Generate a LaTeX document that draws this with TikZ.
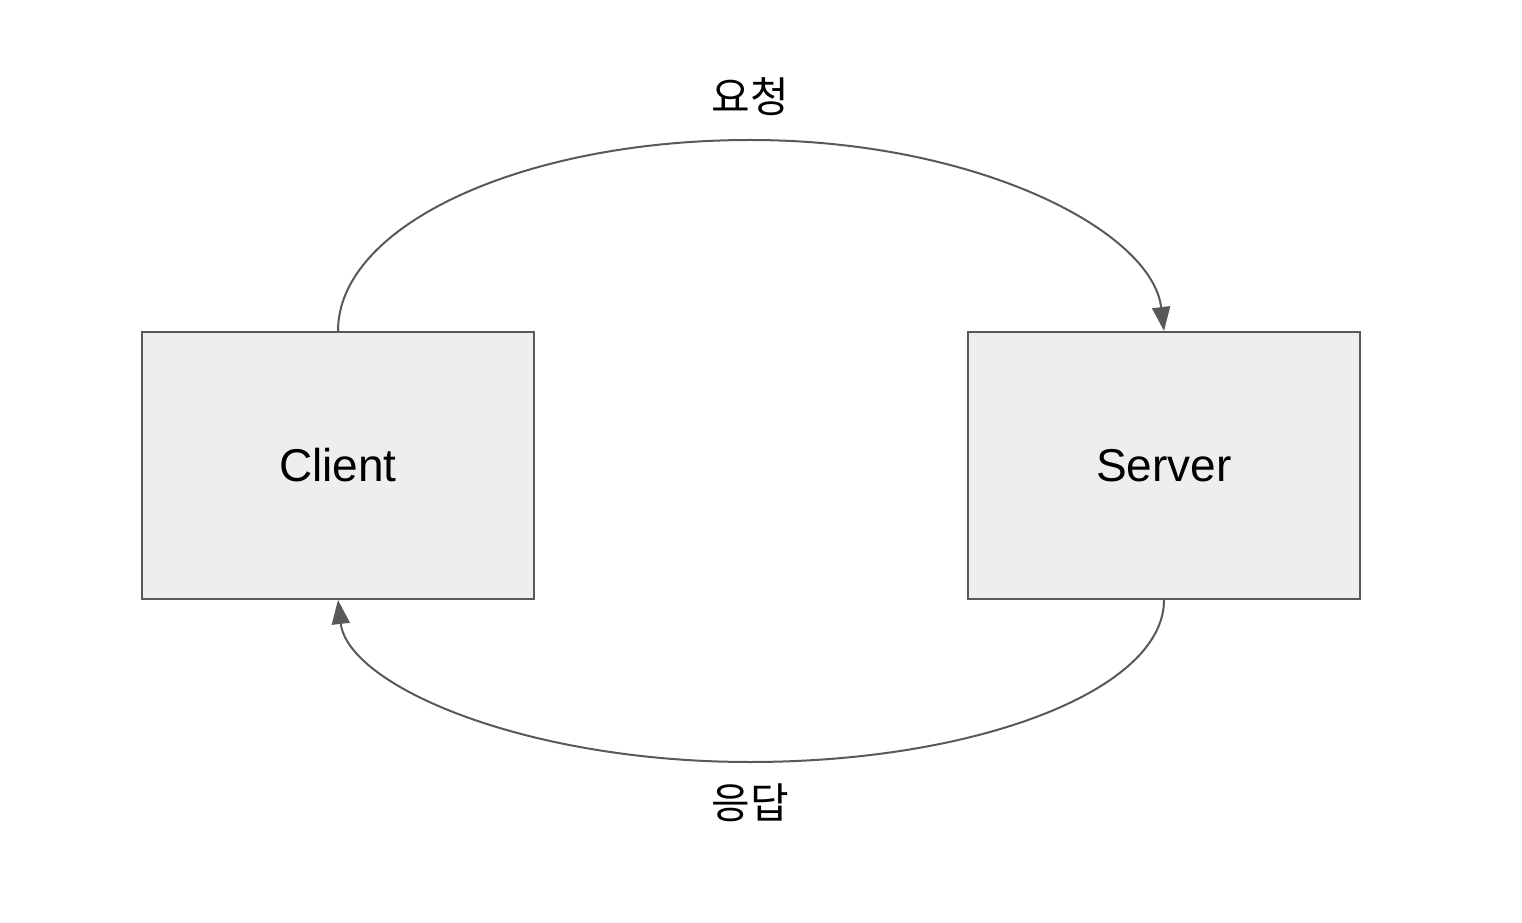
\documentclass[tikz,border=0pt]{standalone}
\usepackage{fontspec}
\setmainfont{Liberation Sans}
\newfontfamily\krfont{Noto Sans CJK KR}
\usetikzlibrary{arrows.meta}
\definecolor{linegray}{HTML}{595959}
\definecolor{boxfill}{HTML}{EEEEEE}
\begin{document}
\begin{tikzpicture}[x=1pt,y=1pt,
  box/.style={draw=linegray, fill=boxfill, line width=2pt, minimum width=392pt, minimum height=267pt, inner sep=0pt, font=\fontsize{46}{54}\selectfont},
  conn/.style={draw=linegray, line width=2pt, -{Triangle[length=24pt,width=18pt]}},
  lbl/.style={font=\krfont\fontsize{42}{50}\selectfont, inner sep=0pt}]
\useasboundingbox (0,0) rectangle (1522,922);
\node[box] (client) at (338,456.5) {Client};
\node[box] (server) at (1164,456.5) {Server};
\node[lbl] (req) at (750,825) {요청};
\node[lbl] (res) at (750,119) {응답};
\coordinate (topmid) at (750,782);
\coordinate (botmid) at (750,160);
\draw[conn] (client.north) .. controls +(0,106) and (523,782) .. (topmid) .. controls (977,782) and ([xshift=-12pt,yshift=100pt]server.north) .. (server.north);
\draw[conn] (server.south) .. controls +(0,-90) and (977,160) .. (botmid) .. controls (523,160) and ([xshift=10pt,yshift=-85pt]client.south) .. (client.south);
\end{tikzpicture}
\end{document}
